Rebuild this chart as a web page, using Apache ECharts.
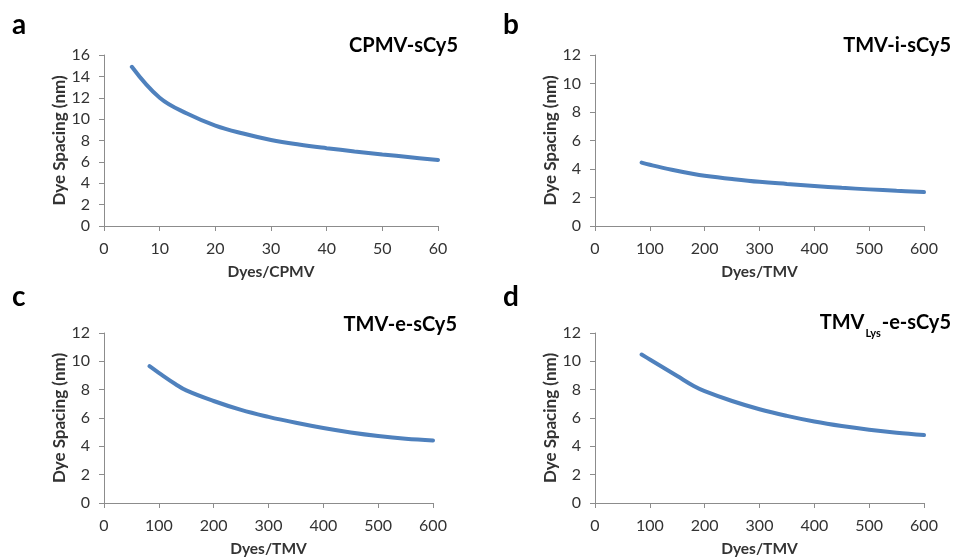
<!DOCTYPE html>
<html>
<head>
<meta charset="utf-8">
<script src="https://cdn.jsdelivr.net/npm/echarts@6/dist/echarts.min.js"></script>
<style>
  html, body { margin: 0; padding: 0; background: #fff; }
  #chart { width: 958px; height: 558px; }
</style>
</head>
<body>
<div id="chart"></div>
<script>
// Dye spacing versus dye loading for four conjugates
const dyesCPMV = [5, 10, 15, 20, 25, 30, 35, 40, 45, 50, 55, 60];
const spacingCPMV = [14.9, 12.0, 10.5, 9.4, 8.65, 8.05, 7.62, 7.28, 6.98, 6.7, 6.43, 6.17];

const dyesTMVi = [85, 100, 140, 180, 200, 250, 300, 350, 400, 450, 500, 550, 600];
const spacingTMVi = [4.45, 4.3, 3.95, 3.65, 3.53, 3.3, 3.1, 2.95, 2.81, 2.68, 2.57, 2.47, 2.38];

const dyesTMVe = [83, 100, 130, 150, 200, 250, 300, 350, 400, 450, 500, 550, 600];
const spacingTMVe = [9.66, 9.19, 8.4, 7.95, 7.2, 6.57, 6.08, 5.66, 5.29, 4.98, 4.73, 4.54, 4.42];

const dyesTMVLys = [85, 100, 150, 180, 200, 250, 300, 350, 400, 450, 500, 550, 600];
const spacingTMVLys = [10.48, 10.13, 8.96, 8.26, 7.9, 7.2, 6.62, 6.15, 5.75, 5.43, 5.17, 4.96, 4.8];

const xTicksCPMV = [0, 10, 60];   // min, interval, max
const xTicksTMV = [0, 100, 600];
const yTicksCPMV = [0, 2, 16];
const yTicksTMV = [0, 2, 12];

const panelLetters = ['a', 'b', 'c', 'd'];
const xNames = ['Dyes/CPMV', 'Dyes/TMV', 'Dyes/TMV', 'Dyes/TMV'];
const yName = 'Dye Spacing (nm)';

const FONT = 'Lato, "Open Sans", sans-serif';
const LINE = '#4F81BD';
const AXIS = '#8c8c8c';
const TXT = '#333333';

const grids = [
  { left: 104, top: 55, width: 334, height: 171 },
  { left: 595, top: 55, width: 329, height: 171 },
  { left: 104, top: 333, width: 329, height: 171 },
  { left: 595, top: 333, width: 329, height: 171 }
];

function zip(xs, ys) { return xs.map((x, i) => [x, ys[i]]); }

const panelData = [
  zip(dyesCPMV, spacingCPMV),
  zip(dyesTMVi, spacingTMVi),
  zip(dyesTMVe, spacingTMVe),
  zip(dyesTMVLys, spacingTMVLys)
];
const xTicks = [xTicksCPMV, xTicksTMV, xTicksTMV, xTicksTMV];
const yTicks = [yTicksCPMV, yTicksTMV, yTicksTMV, yTicksTMV];

const xAxis = grids.map((g, i) => ({
  type: 'value', gridIndex: i,
  min: xTicks[i][0], interval: xTicks[i][1], max: xTicks[i][2],
  name: xNames[i], nameLocation: 'middle', nameGap: 38,
  nameTextStyle: { fontFamily: FONT, fontWeight: 'bold', fontSize: 15.5, color: TXT },
  axisLine: { show: true, lineStyle: { color: AXIS, width: 1 } },
  axisTick: { show: true, length: 5, lineStyle: { color: AXIS } },
  axisLabel: { fontFamily: FONT, fontSize: 16, color: TXT, margin: 15 },
  splitLine: { show: false }
}));

const yAxis = grids.map((g, i) => ({
  type: 'value', gridIndex: i,
  min: yTicks[i][0], interval: yTicks[i][1], max: yTicks[i][2],
  name: yName, nameLocation: 'middle', nameGap: 35, nameRotate: 90,
  nameTextStyle: { fontFamily: FONT, fontWeight: 'bold', fontSize: 17, color: TXT },
  axisLine: { show: true, lineStyle: { color: AXIS, width: 1 } },
  axisTick: { show: true, length: 5, lineStyle: { color: AXIS } },
  axisLabel: { fontFamily: FONT, fontSize: 16, color: TXT, margin: 14 },
  splitLine: { show: false }
}));

const series = panelData.map((d, i) => ({
  type: 'line', xAxisIndex: i, yAxisIndex: i,
  data: d, smooth: 0.4, showSymbol: false,
  lineStyle: { color: LINE, width: 4, cap: 'round' }
}));

const titleStyle = { fontFamily: FONT, fontWeight: 'bold', fontSize: 20, fill: '#000' };

const graphic = [
  { type: 'text', left: 12, top: 11, style: { text: panelLetters[0], font: 'bold 28px ' + FONT, fill: '#000' } },
  { type: 'text', left: 503, top: 11, style: { text: panelLetters[1], font: 'bold 28px ' + FONT, fill: '#000' } },
  { type: 'text', left: 12, top: 283, style: { text: panelLetters[2], font: 'bold 28px ' + FONT, fill: '#000' } },
  { type: 'text', left: 503, top: 283, style: { text: panelLetters[3], font: 'bold 28px ' + FONT, fill: '#000' } },
  { type: 'text', right: 500, top: 36, style: Object.assign({ text: 'CPMV-sCy5' }, titleStyle) },
  { type: 'text', right: 7, top: 36, style: Object.assign({ text: 'TMV-i-sCy5' }, titleStyle) },
  { type: 'text', right: 501, top: 315, style: Object.assign({ text: 'TMV-e-sCy5' }, titleStyle) },
  { type: 'text', right: 7, top: 313, style: {
      text: '{m|TMV}{s|Lys}{m|-e-sCy5}',
      rich: {
        m: { fontFamily: FONT, fontWeight: 'bold', fontSize: 20, fill: '#000', lineHeight: 26, verticalAlign: 'top' },
        s: { fontFamily: FONT, fontWeight: 'bold', fontSize: 11, fill: '#000', lineHeight: 26, verticalAlign: 'bottom', padding: [15, 1, 0, 1] }
      }
  } }
];

const chart = echarts.init(document.getElementById('chart'), null, { renderer: 'canvas' });
chart.setOption({
  animation: false,
  backgroundColor: '#fff',
  grid: grids,
  xAxis: xAxis,
  yAxis: yAxis,
  series: series,
  graphic: graphic
});
</script>
</body>
</html>
